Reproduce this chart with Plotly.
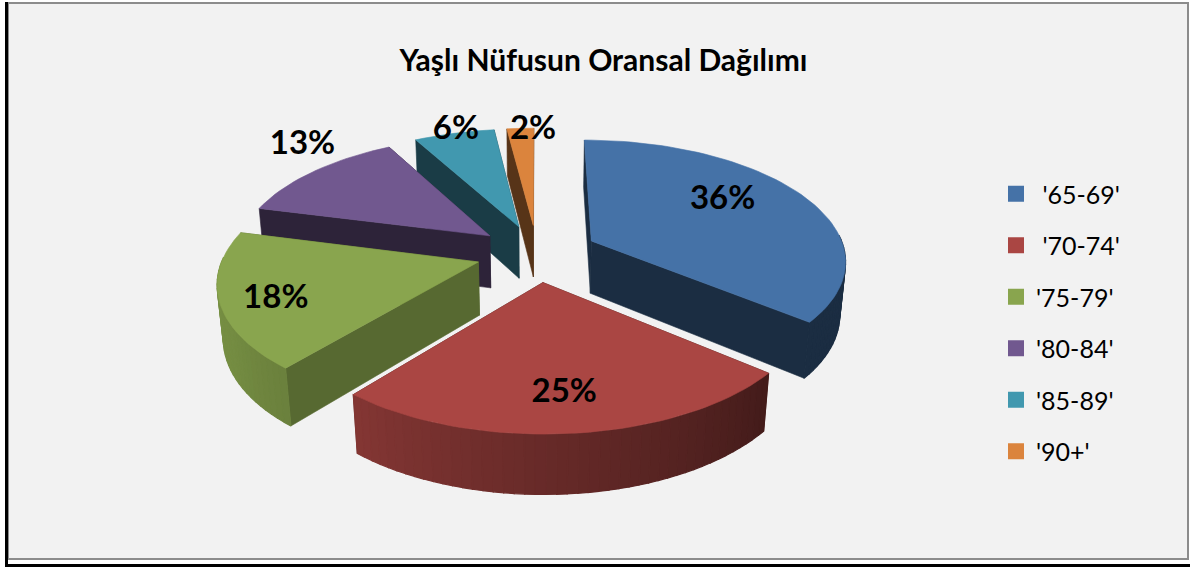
import numpy as np
import plotly.graph_objects as go

# --- data ---
categories = ["'65-69'", "'70-74'", "'75-79'", "'80-84'", "'85-89'", "'90+'"]
legend_names = ["\u00a0'65-69'", "\u00a0'70-74'", "'75-79'", "'80-84'", "'85-89'", "'90+'"]
values = [36, 25, 18, 13, 6, 2]
title_text = "Yaşlı Nüfusun Oransal Dağılımı"

# --- style ---
colors = ["#4572A7", "#AA4643", "#89A54E", "#71588F", "#4198AF", "#DB843D"]
cut_shade = [0.40, 0.40, 0.64, 0.40, 0.40, 0.40]
label_radius = [0.67, 0.77, 0.80, 1.25, 1.03, 0.97]
label_turn = [-7.5, 0.3, -3.6, 7.7, 0.9, 3.4]

# --- 3-D projection parameters ---
CX, CY, SCALE = 537.0, 253.0, 254.0
ELEV = np.radians(28)
DIST = 5.94
HEIGHT = 0.24
EXPLODE = 0.24
START = 0.0


def project(x, y, z):
    depth = 1 + (y * np.cos(ELEV) - z * np.sin(ELEV)) / DIST
    v = y * np.sin(ELEV) + z * np.cos(ELEV)
    return CX + SCALE * x / depth, CY - SCALE * v / depth


def shade(hex_color, f):
    rgb = [int(hex_color[i:i + 2], 16) for i in (1, 3, 5)]
    return "rgb({},{},{})".format(*[int(c * f) for c in rgb])


def rim_shade(az):
    return float(np.interp(az % 360, [0, 130, 220, 240, 285, 360],
                           [0.40, 0.40, 0.78, 0.85, 0.90, 0.90]))


def poly(fig, pts3d, color, lw=0.6):
    xs, ys = project(*np.array(pts3d).T)
    fig.add_trace(go.Scatter(
        x=list(xs) + [xs[0]], y=list(ys) + [ys[0]], mode="lines", fill="toself",
        fillcolor=color, line=dict(color=color, width=lw),
        hoverinfo="skip", showlegend=False))


fig = go.Figure()

total = sum(values)
starts = START + 360 * np.cumsum([0] + values[:-1]) / total
sweeps = 360 * np.array(values) / total
mids = starts + sweeps / 2

for i in np.argsort(-np.cos(np.radians(mids))):
    a0, sw, mid = starts[i], sweeps[i], np.radians(mids[i])
    ox, oy = EXPLODE * np.sin(mid), EXPLODE * np.cos(mid)
    n = max(2, int(sw / 2))
    az = np.linspace(a0, a0 + sw, n + 1)
    rx = ox + np.sin(np.radians(az))
    ry = oy + np.cos(np.radians(az))
    faces = []
    for ax_x, ax_y in ((rx[0], ry[0]), (rx[-1], ry[-1])):
        pts = [(ox, oy, 0), (ax_x, ax_y, 0), (ax_x, ax_y, -HEIGHT), (ox, oy, -HEIGHT)]
        faces.append(((oy + ax_y) / 2, pts, shade(colors[i], cut_shade[i]), 0.6))
    for k in range(n):
        amid = (az[k] + az[k + 1]) / 2
        if np.cos(np.radians(amid)) > 0.05:
            continue
        pts = [(rx[k], ry[k], 0), (rx[k + 1], ry[k + 1], 0),
               (rx[k + 1], ry[k + 1], -HEIGHT), (rx[k], ry[k], -HEIGHT)]
        faces.append(((ry[k] + ry[k + 1]) / 2, pts, shade(colors[i], rim_shade(amid)), 1.2))
    for _, pts, col, lw in sorted(faces, key=lambda f: -f[0]):
        poly(fig, pts, col, lw)
    poly(fig, [(ox, oy, 0)] + [(x, y, 0) for x, y in zip(rx, ry)], colors[i])

# data labels
for i, v in enumerate(values):
    mid = np.radians(mids[i] + label_turn[i])
    ox, oy = EXPLODE * np.sin(np.radians(mids[i])), EXPLODE * np.cos(np.radians(mids[i]))
    lx, ly = project(ox + label_radius[i] * np.sin(mid), oy + label_radius[i] * np.cos(mid), 0.0)
    fig.add_trace(go.Scatter(
        x=[lx], y=[ly], mode="text", text=[f"<b>{v}%</b>"], textposition="middle center",
        textfont=dict(family="Lato", size=33, color="#000000"),
        hoverinfo="skip", showlegend=False))

# legend entries
for i, name in enumerate(legend_names):
    fig.add_trace(go.Scatter(
        x=[None], y=[None], mode="markers", name=name, legendgroup=categories[i],
        marker=dict(symbol="square", size=17, color=colors[i], line=dict(width=0))))

shapes = [
    dict(type="rect", xref="x", yref="y", x0=8, x1=1188, y0=3, y1=559,
         fillcolor="#F2F2F2", line=dict(color="#8C8C8C", width=2), layer="below"),
    dict(type="rect", xref="x", yref="y", x0=5, x1=8, y0=2, y1=567,
         fillcolor="#000000", line=dict(width=0), layer="below"),
    dict(type="rect", xref="x", yref="y", x0=5, x1=1190, y0=564, y1=567,
         fillcolor="#000000", line=dict(width=0), layer="below"),
]

fig.update_layout(
    width=1190, height=567, autosize=False,
    margin=dict(l=0, r=0, t=0, b=0),
    paper_bgcolor="#FFFFFF", plot_bgcolor="rgba(0,0,0,0)",
    xaxis=dict(range=[0, 1190], visible=False, fixedrange=True),
    yaxis=dict(range=[567, 0], visible=False, fixedrange=True),
    shapes=shapes,
    title=dict(text=f"<b>{title_text}</b>", x=603.5 / 1190, xanchor="center",
               y=1 - 60 / 567, yanchor="middle",
               font=dict(family="Lato", size=30, color="#000000")),
    legend=dict(x=996 / 1190, y=1 - 171 / 567, xanchor="left", yanchor="top",
                traceorder="grouped", tracegroupgap=16, itemclick=False,
                font=dict(family="Lato", size=25, color="#000000"),
                bgcolor="rgba(0,0,0,0)"),
    showlegend=True,
)

fig.write_html("out.html", config={"displayModeBar": False},
               post_script="document.body.style.margin='0';document.documentElement.style.overflow='hidden';")
